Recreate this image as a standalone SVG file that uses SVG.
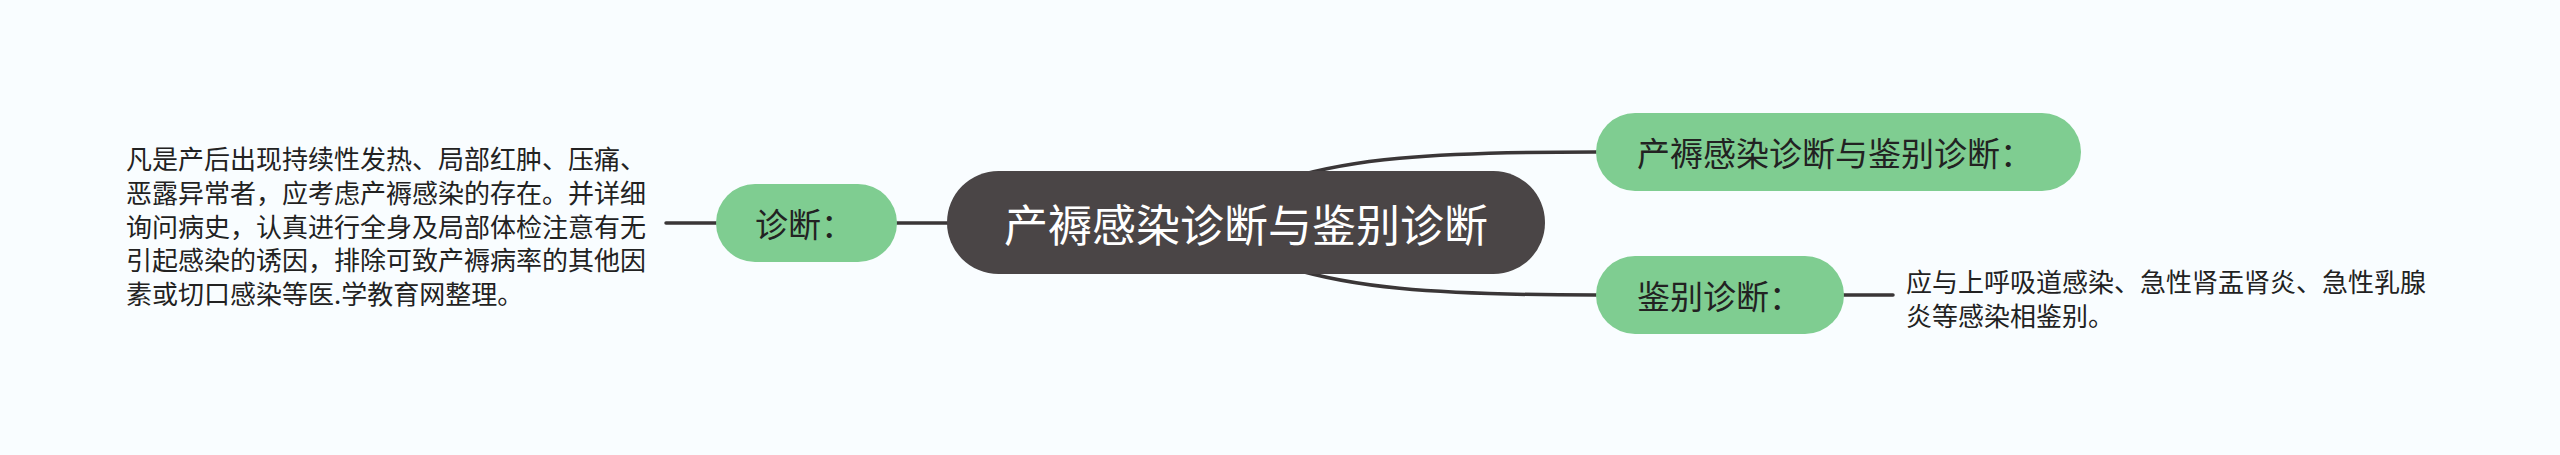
<svg xmlns="http://www.w3.org/2000/svg" width="2560" height="455" viewBox="0 0 2560 455">
<style>
.bg{fill:#f9fdff}
.link{fill:none;stroke:#3a3637;stroke-width:3.5;stroke-linecap:round}
.root{fill:#4a4546}
.sub{fill:#7fcd91}
.t{font-family:"Noto Sans CJK SC","Noto Sans",sans-serif;dominant-baseline:central}
.rt{fill:#ffffff;font-size:44px}
.st{fill:#222222;font-size:33px}
.pt{fill:#222222;font-size:26px}
</style>
<rect class="bg" x="0" y="0" width="2560" height="455"/>
<g id="connectors">
<path class="link" d="M666,223 L716,223"/>
<path class="link" d="M897,223 L960,223"/>
<path class="link" d="M1290,178 C1350,160 1420,152 1596,152"/>
<path class="link" d="M1290,268 C1350,286 1420,295 1596,295"/>
<path class="link" d="M1844,295 L1893,295"/>
</g>
<g id="root">
<rect class="root" x="947" y="171" width="598" height="103" rx="51.5"/>
<text class="t rt" x="1246" y="223" text-anchor="middle">产褥感染诊断与鉴别诊断</text>
</g>
<g id="node-zhenduan">
<rect class="sub" x="716" y="184" width="181" height="78" rx="39"/>
<text class="t st" x="755" y="223">诊断：</text>
</g>
<g id="node-zhenduan-text">
<text class="t pt" x="126" y="157">凡是产后出现持续性发热、局部红肿、压痛、</text>
<text class="t pt" x="126" y="191">恶露异常者，应考虑产褥感染的存在。并详细</text>
<text class="t pt" x="126" y="225">询问病史，认真进行全身及局部体检注意有无</text>
<text class="t pt" x="126" y="258">引起感染的诱因，排除可致产褥病率的其他因</text>
<text class="t pt" x="126" y="292">素或切口感染等医.学教育网整理。</text>
</g>
<g id="node-title">
<rect class="sub" x="1596" y="113" width="485" height="78" rx="39"/>
<text class="t st" x="1637" y="152">产褥感染诊断与鉴别诊断：</text>
</g>
<g id="node-jianbie">
<rect class="sub" x="1596" y="256" width="248" height="78" rx="39"/>
<text class="t st" x="1637" y="295">鉴别诊断：</text>
</g>
<g id="node-jianbie-text">
<text class="t pt" x="1906" y="280">应与上呼吸道感染、急性肾盂肾炎、急性乳腺</text>
<text class="t pt" x="1906" y="314">炎等感染相鉴别。</text>
</g>
</svg>
